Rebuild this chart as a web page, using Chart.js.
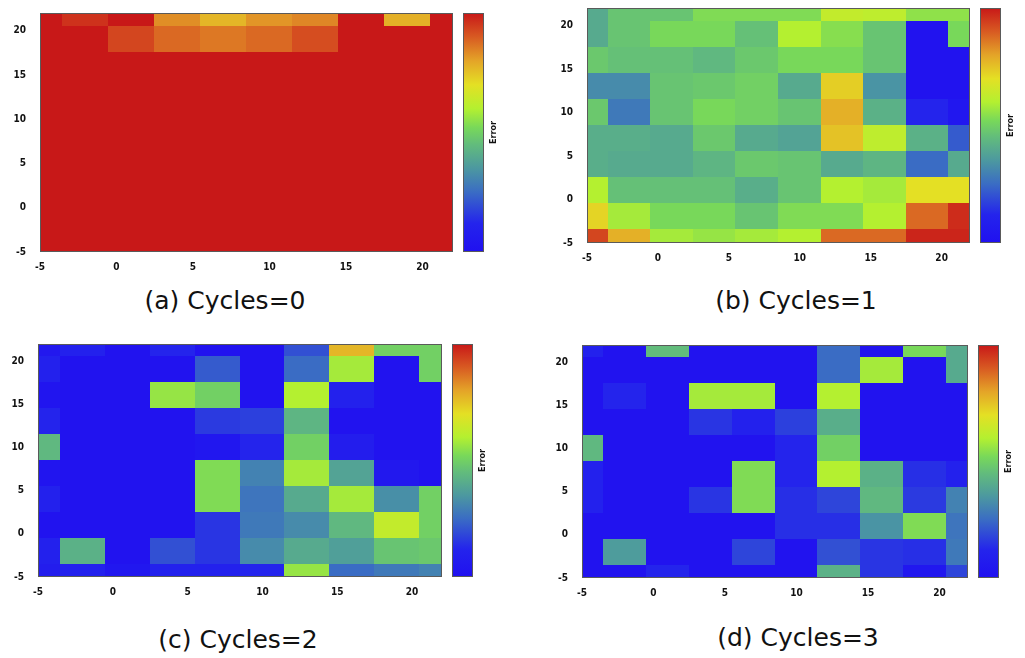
<!DOCTYPE html>
<html>
<head>
<meta charset="utf-8">
<title>Error maps</title>
<script src="https://cdn.jsdelivr.net/npm/chart.js@4"></script>
<style>
  body { margin: 0; background: #fff; width: 1025px; height: 658px; position: relative; overflow: hidden; }
  canvas { position: absolute; }
  .caption {
    position: absolute; transform: translate(-50%, -50%); white-space: nowrap;
    font-family: 'DejaVu Sans', sans-serif; font-size: 25px; color: #111;
  }
</style>
</head>
<body>
<canvas id="c0" width="510" height="280" style="left:0;top:0"></canvas>
<canvas id="c1" width="515" height="280" style="left:510px;top:0"></canvas>
<canvas id="c2" width="510" height="290" style="left:0;top:320px"></canvas>
<canvas id="c3" width="515" height="290" style="left:510px;top:320px"></canvas>
<div class="caption" style="left:225px;top:300px">(a) Cycles=0</div>
<div class="caption" style="left:796px;top:300px">(b) Cycles=1</div>
<div class="caption" style="left:238px;top:639px">(c) Cycles=2</div>
<div class="caption" style="left:798px;top:637px">(d) Cycles=3</div>
<script>
// centres des cellules (pas de 3), lignes du haut vers le bas
const xCenters = [-5, -2, 1, 4, 7, 10, 13, 16, 19, 22];
const yCenters = [22, 19, 16, 13, 10, 7, 4, 1, -2, -5];
const cellSize = 3;
const axisTicks = [-5, 0, 5, 10, 15, 20];
const colorbarLabel = 'Error';

// erreur normalisée 0..1, une ligne par valeur de yCenters
const errCycles0 = [
  [1.00, 0.96, 1.00, 0.83, 0.77, 0.82, 0.84, 1.00, 0.78, 1.00],
  [1.00, 1.00, 0.93, 0.88, 0.86, 0.88, 0.92, 1.00, 1.00, 1.00],
  [1.00, 1.00, 1.00, 1.00, 1.00, 1.00, 1.00, 1.00, 1.00, 1.00],
  [1.00, 1.00, 1.00, 1.00, 1.00, 1.00, 1.00, 1.00, 1.00, 1.00],
  [1.00, 1.00, 1.00, 1.00, 1.00, 1.00, 1.00, 1.00, 1.00, 1.00],
  [1.00, 1.00, 1.00, 1.00, 1.00, 1.00, 1.00, 1.00, 1.00, 1.00],
  [1.00, 1.00, 1.00, 1.00, 1.00, 1.00, 1.00, 1.00, 1.00, 1.00],
  [1.00, 1.00, 1.00, 1.00, 1.00, 1.00, 1.00, 1.00, 1.00, 1.00],
  [1.00, 1.00, 1.00, 1.00, 1.00, 1.00, 1.00, 1.00, 1.00, 1.00],
  [1.00, 1.00, 1.00, 1.00, 1.00, 1.00, 1.00, 1.00, 1.00, 1.00]
];
const errCycles1 = [
  [0.40, 0.47, 0.47, 0.53, 0.53, 0.53, 0.63, 0.62, 0.55, 0.55],
  [0.40, 0.47, 0.52, 0.52, 0.46, 0.60, 0.54, 0.47, 0.02, 0.52],
  [0.48, 0.46, 0.46, 0.44, 0.48, 0.52, 0.52, 0.47, 0.02, 0.02],
  [0.32, 0.32, 0.47, 0.48, 0.50, 0.40, 0.73, 0.34, 0.02, 0.02],
  [0.48, 0.28, 0.47, 0.52, 0.50, 0.47, 0.78, 0.42, 0.12, 0.04],
  [0.41, 0.41, 0.40, 0.48, 0.40, 0.38, 0.75, 0.62, 0.42, 0.22],
  [0.41, 0.40, 0.40, 0.43, 0.48, 0.47, 0.40, 0.43, 0.25, 0.40],
  [0.60, 0.46, 0.46, 0.46, 0.41, 0.47, 0.60, 0.58, 0.70, 0.70],
  [0.72, 0.58, 0.52, 0.52, 0.47, 0.53, 0.53, 0.60, 0.88, 0.97],
  [0.93, 0.78, 0.58, 0.56, 0.58, 0.60, 0.88, 0.88, 0.98, 0.98]
];
const errCycles2 = [
  [0.05, 0.10, 0.02, 0.12, 0.02, 0.02, 0.20, 0.77, 0.50, 0.50],
  [0.10, 0.02, 0.02, 0.02, 0.22, 0.02, 0.25, 0.58, 0.02, 0.50],
  [0.03, 0.02, 0.02, 0.56, 0.50, 0.02, 0.60, 0.10, 0.02, 0.02],
  [0.12, 0.02, 0.02, 0.02, 0.16, 0.17, 0.43, 0.02, 0.02, 0.02],
  [0.44, 0.02, 0.02, 0.02, 0.04, 0.12, 0.50, 0.08, 0.02, 0.02],
  [0.03, 0.02, 0.02, 0.02, 0.53, 0.30, 0.58, 0.38, 0.05, 0.02],
  [0.10, 0.02, 0.02, 0.02, 0.53, 0.27, 0.40, 0.58, 0.33, 0.50],
  [0.02, 0.02, 0.02, 0.02, 0.15, 0.28, 0.32, 0.44, 0.63, 0.50],
  [0.10, 0.42, 0.02, 0.20, 0.15, 0.32, 0.40, 0.37, 0.47, 0.48],
  [0.08, 0.10, 0.04, 0.10, 0.10, 0.12, 0.56, 0.25, 0.28, 0.30]
];
const errCycles3 = [
  [0.10, 0.02, 0.45, 0.02, 0.02, 0.02, 0.25, 0.02, 0.52, 0.40],
  [0.02, 0.02, 0.02, 0.02, 0.02, 0.02, 0.25, 0.58, 0.02, 0.40],
  [0.02, 0.12, 0.02, 0.58, 0.58, 0.02, 0.60, 0.02, 0.02, 0.02],
  [0.02, 0.02, 0.02, 0.15, 0.10, 0.17, 0.41, 0.02, 0.02, 0.02],
  [0.44, 0.02, 0.02, 0.02, 0.02, 0.12, 0.50, 0.02, 0.02, 0.02],
  [0.10, 0.02, 0.02, 0.02, 0.53, 0.12, 0.60, 0.42, 0.14, 0.10],
  [0.10, 0.02, 0.02, 0.15, 0.53, 0.14, 0.18, 0.44, 0.16, 0.30],
  [0.02, 0.02, 0.02, 0.02, 0.02, 0.14, 0.14, 0.34, 0.53, 0.27],
  [0.02, 0.36, 0.02, 0.02, 0.18, 0.02, 0.20, 0.15, 0.14, 0.28],
  [0.02, 0.02, 0.12, 0.02, 0.02, 0.02, 0.42, 0.15, 0.04, 0.18]
];

// palette type "jet"
const cmapStops = [0, 0.12, 0.25, 0.35, 0.45, 0.52, 0.6, 0.7, 0.8, 0.9, 1];
const cmapColors = ['#2010f0', '#2424ec', '#3a6cc4', '#4c98a0', '#62bc7c', '#78d85a',
                    '#b4f030', '#e4e024', '#e4a428', '#d85a22', '#c81818'];

function hexToRgb(h) {
  return [1, 3, 5].map(i => parseInt(h.slice(i, i + 2), 16));
}

function errorColor(v) {
  for (let i = 1; i < cmapStops.length; i++) {
    if (v <= cmapStops[i]) {
      const t = (v - cmapStops[i - 1]) / (cmapStops[i] - cmapStops[i - 1]);
      const a = hexToRgb(cmapColors[i - 1]);
      const b = hexToRgb(cmapColors[i]);
      const c = a.map((k, n) => Math.round(k + (b[n] - k) * t));
      return `rgb(${c[0]},${c[1]},${c[2]})`;
    }
  }
  return cmapColors[cmapColors.length - 1];
}

// dessine les cellules + barre de couleur à l'aide des échelles du graphique
const heatmapPlugin = {
  id: 'heatmap',
  beforeDatasetsDraw(chart) {
    const { ctx, chartArea: area, scales: { x, y } } = chart;
    const half = cellSize / 2;
    ctx.save();
    chart.data.datasets[0].data.forEach(p => {
      const x0 = Math.floor(x.getPixelForValue(Math.max(p.x - half, x.min)));
      const x1 = Math.ceil(x.getPixelForValue(Math.min(p.x + half, x.max)));
      const y0 = Math.floor(y.getPixelForValue(Math.min(p.y + half, y.max)));
      const y1 = Math.ceil(y.getPixelForValue(Math.max(p.y - half, y.min)));
      ctx.fillStyle = errorColor(p.v);
      ctx.fillRect(x0, y0, x1 - x0, y1 - y0);
    });
    ctx.strokeStyle = '#5a5a5a';
    ctx.lineWidth = 1;
    ctx.strokeRect(area.left + 0.5, area.top + 0.5, area.width - 1, area.height - 1);

    // barre de couleur
    const barLeft = area.right + 10;
    const barWidth = 21;
    const grad = ctx.createLinearGradient(0, area.bottom, 0, area.top);
    cmapStops.forEach((s, i) => grad.addColorStop(s, cmapColors[i]));
    ctx.fillStyle = grad;
    ctx.fillRect(barLeft, area.top, barWidth, area.height);
    ctx.strokeRect(barLeft + 0.5, area.top + 0.5, barWidth - 1, area.height - 1);

    ctx.translate(barLeft + barWidth + 10, (area.top + area.bottom) / 2);
    ctx.rotate(-Math.PI / 2);
    ctx.fillStyle = '#111';
    ctx.font = 'bold 9px "DejaVu Sans Condensed", "DejaVu Sans"';
    ctx.textAlign = 'center';
    ctx.textBaseline = 'middle';
    ctx.fillText(colorbarLabel, 0, 0);
    ctx.restore();
  }
};

function buildPoints(grid) {
  const pts = [];
  grid.forEach((row, i) => {
    row.forEach((v, j) => pts.push({ x: xCenters[j], y: yCenters[i], v }));
  });
  return pts;
}

function axis(min, max, pad, extra) {
  return Object.assign({
    type: 'linear',
    min, max,
    grid: { display: false },
    border: { display: false },
    afterBuildTicks: s => { s.ticks = axisTicks.map(v => ({ value: v })); },
    ticks: {
      color: '#111',
      padding: pad,
      font: { family: '"DejaVu Sans Condensed", "DejaVu Sans"', size: 10, weight: 'bold' }
    }
  }, extra);
}

const panels = [
  { id: 'c0', grid: errCycles0, yWidth: 40, pad: { top: 13, right: 57, bottom: 0 } },
  { id: 'c1', grid: errCycles1, yWidth: 77, pad: { top: 8, right: 55, bottom: 9 } },
  { id: 'c2', grid: errCycles2, yWidth: 38, pad: { top: 24, right: 68, bottom: 5 } },
  { id: 'c3', grid: errCycles3, yWidth: 72, pad: { top: 25, right: 57, bottom: 4 } }
];

panels.forEach(p => {
  new Chart(document.getElementById(p.id), {
    type: 'scatter',
    data: {
      datasets: [{ data: buildPoints(p.grid), pointRadius: 0, showLine: false }]
    },
    options: {
      responsive: false,
      animation: false,
      layout: { padding: { left: 0, top: p.pad.top, right: p.pad.right, bottom: p.pad.bottom } },
      plugins: { legend: { display: false }, tooltip: { enabled: false } },
      scales: {
        x: axis(-5, 22, 1, {
          afterFit: s => { s.height = 28; s.paddingLeft = 0; s.paddingRight = 0; }
        }),
        y: axis(-5, 22, 6, {
          afterFit: s => { s.width = p.yWidth; s.paddingTop = 0; s.paddingBottom = 0; }
        })
      }
    },
    plugins: [heatmapPlugin]
  });
});
</script>
</body>
</html>
